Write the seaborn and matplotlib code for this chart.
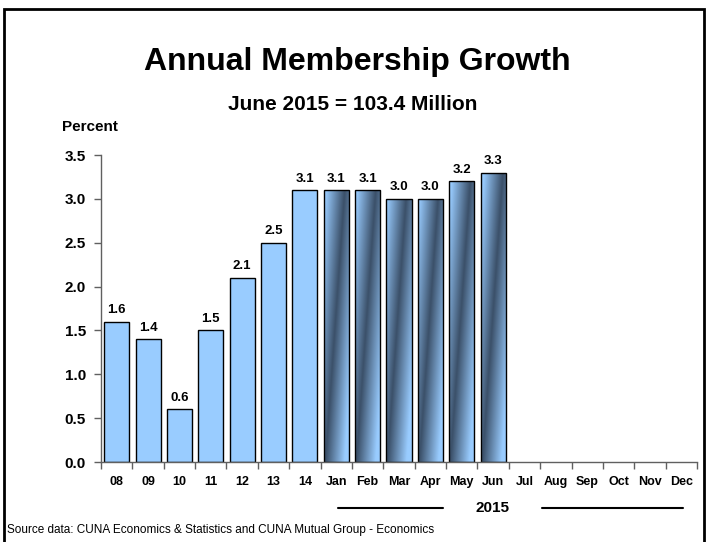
import numpy as np
import pandas as pd
import matplotlib
matplotlib.use("Agg")
import matplotlib.pyplot as plt
from matplotlib.colors import LinearSegmentedColormap
from matplotlib.patches import Rectangle
import seaborn as sns

# Year-end values (2008-2014) followed by the 2015 monthly readings
categories = ["08", "09", "10", "11", "12", "13", "14",
              "Jan", "Feb", "Mar", "Apr", "May", "Jun",
              "Jul", "Aug", "Sep", "Oct", "Nov", "Dec"]
growth = [1.6, 1.4, 0.6, 1.5, 2.1, 2.5, 3.1,
          3.1, 3.1, 3.0, 3.0, 3.2, 3.3,
          np.nan, np.nan, np.nan, np.nan, np.nan, np.nan]
n_annual = 7
yticks = [0.0, 0.5, 1.0, 1.5, 2.0, 2.5, 3.0, 3.5]

sns.set_theme(style="white")
plt.rcParams["font.family"] = ["Liberation Sans", "DejaVu Sans"]
plt.rcParams.update({"text.color": "black", "axes.labelcolor": "black",
                     "xtick.color": "black", "ytick.color": "black"})

df = pd.DataFrame({"period": categories, "growth": growth})

fig = plt.figure(figsize=(7.14, 5.42), dpi=100)
ax = fig.add_axes([0.1415, 0.1476, 0.9762 - 0.1415, 0.714 - 0.1476])

LIGHT = "#99ccff"
DARK = "#3b5069"

sns.barplot(data=df.dropna(), x="period", y="growth", order=categories,
            color=LIGHT, saturation=1, width=0.8, edgecolor="black",
            linewidth=1.0, ax=ax)

YMAX = 3.5
cmap = LinearSegmentedColormap.from_list("shade", [DARK, LIGHT])

bars = [p for p in ax.patches if isinstance(p, Rectangle)]
bars = sorted(bars, key=lambda p: p.get_x())
for i, bar in enumerate(bars):
    x0, w, h = bar.get_x(), bar.get_width(), bar.get_height()
    if np.isnan(h) or h == 0:
        continue
    if i >= n_annual:
        # diagonal metallic shading for the current-year months
        ny, nx = 200, 60
        t = np.linspace(0, 1, nx)[None, :]
        s = (np.linspace(0, h, ny) / YMAX)[:, None]
        band = 0.05 + 0.85 * s
        val = np.clip(np.abs(t - band) / 0.75, 0, 1)
        im = ax.imshow(val, cmap=cmap, vmin=0, vmax=1, origin="lower",
                       extent=[x0, x0 + w, 0, h], aspect="auto",
                       interpolation="bilinear", zorder=bar.get_zorder() - 0.01)
        im.set_clip_path(bar)
        bar.set_facecolor("none")
    ax.annotate(f"{h:.1f}", (x0 + w / 2, h), xytext=(0, 4),
                textcoords="offset points", ha="center", va="bottom",
                fontsize=9.5, fontweight="bold", color="black",
                annotation_clip=False)

ax.set_xlim(-0.5, len(categories) - 0.5)
ax.set_ylim(0, YMAX)
ax.set_yticks(yticks)
ax.set_yticklabels([f"{v:.1f}" for v in yticks], fontsize=11, fontweight="bold")
ax.set_xticks(range(len(categories)))
ax.set_xticklabels(categories, fontsize=9, fontweight="bold")
ax.set_xticks(np.arange(-0.5, len(categories)), minor=True)
ax.tick_params(axis="x", which="major", length=0, pad=10, labelcolor="black")
ax.tick_params(axis="x", which="minor", length=5, width=1, color="#606060",
               direction="out", bottom=True)
ax.tick_params(axis="y", length=5, width=1, color="#606060", direction="out",
               left=True, pad=6, labelcolor="black")
ax.set_xlabel("")
ax.set_ylabel("")
for side in ["top", "right"]:
    ax.spines[side].set_visible(False)
for side in ["left", "bottom"]:
    ax.spines[side].set_color("#606060")
    ax.spines[side].set_linewidth(1.0)

# titles and annotations in figure coordinates
fig.text(357 / 714, 1 - 62 / 542, "Annual Membership Growth", ha="center",
         va="center", fontsize=23, fontweight="bold", color="black")
fig.text(353 / 714, 1 - 104 / 542, "June 2015 = 103.4 Million", ha="center",
         va="center", fontsize=15, fontweight="bold", color="black")
fig.text(90 / 714, 1 - 127 / 542, "Percent", ha="center", va="center",
         fontsize=11, fontweight="bold", color="black")
fig.text(493 / 714, 1 - 508 / 542, "2015", ha="center", va="center",
         fontsize=11, fontweight="bold", color="black")
fig.add_artist(plt.Line2D([338 / 714, 443 / 714], [1 - 508 / 542] * 2,
                          color="black", lw=1.5))
fig.add_artist(plt.Line2D([542 / 714, 683 / 714], [1 - 508 / 542] * 2,
                          color="black", lw=1.5))
fig.text(7 / 714, 1 - 530 / 542,
         "Source data: CUNA Economics & Statistics and CUNA Mutual Group - Economics",
         ha="left", va="center", fontsize=8.5, color="black")

# outer frame
fig.add_artist(Rectangle((4 / 714, -0.01), 700 / 714, 1 - 9 / 542 + 0.01,
                         transform=fig.transFigure, fill=False,
                         edgecolor="black", linewidth=2))

fig.savefig("out.png", dpi=100)
